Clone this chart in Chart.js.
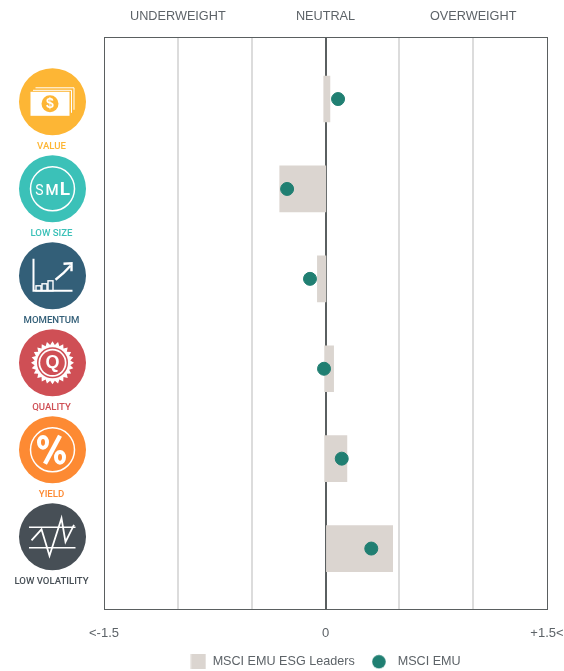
<!DOCTYPE html>
<html>
<head>
<meta charset="utf-8">
<style>
html,body{margin:0;padding:0;background:#fff}
#wrap{position:absolute;left:0;top:0;width:564px;height:671px}
</style>
<script src="https://cdn.jsdelivr.net/npm/chart.js@4/dist/chart.umd.min.js"></script>
</head>
<body>
<div id="wrap"><canvas id="c" width="564" height="671"></canvas></div>
<script>
const categories = ['VALUE','LOW SIZE','MOMENTUM','QUALITY','YIELD','LOW VOLATILITY'];
const categoryColors = ['#fdb635','#3bc1b8','#335f78','#cf4f55','#fd8a33','#474f56'];
const leadersStart = [-0.012,-0.31,-0.055,-0.006,-0.006,0.006];
const leadersEnd = [0.03,0.002,0.003,0.055,0.145,0.455];
const emuValues = [0.085,-0.26,-0.105,-0.01,0.11,0.31];
const topLabels = {'-1':'UNDERWEIGHT','0':'NEUTRAL','1':'OVERWEIGHT'};
const bottomLabels = {'-1.5':'<-1.5','0':'0','1.5':'+1.5<'};
const seriesNames = ['MSCI EMU ESG Leaders','MSCI EMU'];

const TEXT = '#5d6368', BAR = '#dbd5d0', DOT = '#207f72', FRAME = '#5a5f60';
const rows = categories.map((_, i) => i);

function swatch(w, h, draw){
  const c = document.createElement('canvas'); c.width = w; c.height = h;
  draw(c.getContext('2d')); return c;
}
const rectIcon = swatch(16, 15, g => { g.fillStyle = BAR; g.fillRect(0.5, 0, 15, 15); });
const dotIcon = swatch(23, 15, g => { g.fillStyle = DOT; g.beginPath(); g.arc(7, 7.5, 6.8, 0, Math.PI*2); g.fill(); });
const legendIcons = [rectIcon, dotIcon];

function iconValue(g){
  g.fillStyle='#fff';
  g.strokeStyle='#fff'; g.lineWidth=1;
  g.beginPath(); g.moveTo(-17,-14); g.lineTo(21.5,-14); g.lineTo(21.5,8); g.stroke();
  g.beginPath(); g.moveTo(-19.5,-11.5); g.lineTo(19,-11.5); g.lineTo(19,11); g.stroke();
  g.fillRect(-22,-10,39,24);
  g.fillStyle='#fdb635'; g.beginPath(); g.arc(-2.5,2,8.5,0,Math.PI*2); g.fill();
  g.fillStyle='#fff'; g.font='bold 14px "Liberation Sans"'; g.textAlign='center'; g.textBaseline='middle';
  g.fillText('$',-2.5,2.5);
}
function iconSize(g){
  g.strokeStyle='#fff'; g.lineWidth=1.5;
  g.beginPath(); g.arc(0,0,22,0,Math.PI*2); g.stroke();
  g.fillStyle='#fff'; g.textBaseline='alphabetic'; g.textAlign='center';
  g.font='400 14px Roboto'; g.fillText('S',-13,6);
  g.font='500 15px Roboto'; g.fillText('M',-0.5,6);
  g.font='700 19px Roboto'; g.fillText('L',12.5,6);
}
function iconMomentum(g){
  g.strokeStyle='#fff'; g.fillStyle='#fff'; g.lineWidth=2;
  g.beginPath(); g.moveTo(-19,-17); g.lineTo(-19,15); g.lineTo(20,15); g.stroke();
  g.lineWidth=1.4;
  g.strokeRect(-16.5,10,5,5); g.strokeRect(-10.5,8,5,7); g.strokeRect(-4.5,5,5,10);
  g.lineWidth=2.4;
  g.beginPath(); g.moveTo(3,4); g.quadraticCurveTo(11,-2,18,-10); g.stroke();
  g.beginPath(); g.moveTo(11,-12); g.lineTo(19,-12.5); g.lineTo(19,-4.5); g.stroke();
}
function iconQuality(g){
  g.fillStyle='#fff'; g.beginPath();
  const n=24;
  for(let i=0;i<n*2;i++){
    const r=i%2?18:21.5, a=i*Math.PI/n;
    g[i?'lineTo':'moveTo'](r*Math.cos(a),r*Math.sin(a));
  }
  g.closePath(); g.fill();
  g.fillStyle='#cf4f55'; g.beginPath(); g.arc(0,0,15.5,0,Math.PI*2); g.fill();
  g.fillStyle='#fff'; g.beginPath(); g.arc(0,0,14,0,Math.PI*2); g.fill();
  g.fillStyle='#cf4f55'; g.beginPath(); g.arc(0,0,12.3,0,Math.PI*2); g.fill();
  g.fillStyle='#fff'; g.font='bold 18px "Liberation Sans"'; g.textAlign='center'; g.textBaseline='middle';
  g.fillText('Q',0,0.5);
}
function iconYield(g){
  g.strokeStyle='#fff'; g.lineWidth=1.5;
  g.beginPath(); g.arc(0,0,22,0,Math.PI*2); g.stroke();
  g.lineWidth=4;
  g.beginPath(); g.ellipse(-9.5,-7.5,4,5.4,0,0,Math.PI*2); g.stroke();
  g.beginPath(); g.ellipse(7.5,7.5,4,5.4,0,0,Math.PI*2); g.stroke();
  g.lineWidth=4.4;
  g.beginPath(); g.moveTo(7.5,-14); g.lineTo(-7.5,14); g.stroke();
}
function iconVol(g){
  g.strokeStyle='#fff'; g.lineWidth=1.6;
  g.beginPath(); g.moveTo(-23.5,-9.5); g.lineTo(23,-9.5); g.stroke();
  g.beginPath(); g.moveTo(-23.5,11); g.lineTo(23,11); g.stroke();
  g.lineWidth=1.8;
  g.beginPath();
  [[-21,3.5],[-11,-7.5],[-3,19],[9,-18.5],[13,5],[21.5,-12]].forEach((p,i)=>{g[i?'lineTo':'moveTo'](p[0],p[1]);});
  g.stroke();
}
const iconDrawers = [iconValue,iconSize,iconMomentum,iconQuality,iconYield,iconVol];

const factorIcons = {
  id:'factorIcons',
  afterLayout(chart){ chart.legend.top -= 6; chart.legend.bottom -= 6; },
  afterDraw(chart){
    const g = chart.ctx;
    categories.forEach((name,i)=>{
      const cy = 101.8 + i*87, cx = 52.5;
      g.save();
      g.fillStyle = categoryColors[i];
      g.beginPath(); g.arc(cx,cy,33.5,0,Math.PI*2); g.fill();
      g.translate(cx,cy);
      iconDrawers[i](g);
      g.restore();
      g.save();
      g.fillStyle = categoryColors[i];
      g.font = '500 9.6px Roboto';
      g.textAlign='center'; g.textBaseline='middle';
      g.fillText(name, cx-1, cy+44.4);
      g.restore();
    });
  }
};

new Chart(document.getElementById('c'),{
  data:{
    datasets:[
      {type:'bar', label:seriesNames[0], indexAxis:'y', xAxisID:'x', yAxisID:'y',
       data:rows.map(i=>({x:[leadersStart[i],leadersEnd[i]],y:i})),
       backgroundColor:BAR, barThickness:46, order:2},
      {type:'scatter', label:seriesNames[1], xAxisID:'x', yAxisID:'y',
       data:rows.map(i=>({x:emuValues[i],y:i})),
       backgroundColor:DOT, borderColor:DOT, pointRadius:6.5, pointHoverRadius:6.5, order:1, pointStyle:'circle'}
    ]
  },
  options:{
    responsive:false, animation:false,
    layout:{padding:{left:104,right:17,top:0,bottom:-13}},
    scales:{
      x:{type:'linear',position:'bottom',min:-1.5,max:1.5,
         afterFit(s){s.height=31;s.paddingLeft=0;s.paddingRight=0;},
         afterBuildTicks(s){s.ticks=[-1.5,-1,-0.5,0,0.5,1,1.5].map(v=>({value:v}));},
         grid:{drawTicks:false,
           color:c=>{const v=c.tick&&c.tick.value;return (v===0||v===-1.5||v===1.5)?FRAME:'#dcdcdc';},
           lineWidth:c=>{const v=c.tick&&c.tick.value;return v===0?2:(v===-1.5||v===1.5)?1:2;}},
         border:{display:true,color:FRAME,width:1},
         ticks:{padding:16,maxRotation:0,autoSkip:false,color:TEXT,font:{family:'"Liberation Sans"',size:13},
           callback:v=>bottomLabels[String(v)]||''}},
      x2:{type:'linear',axis:'x',position:'top',min:-1.5,max:1.5,
         afterFit(s){s.height=37;s.paddingLeft=0;s.paddingRight=0;},
         afterBuildTicks(s){s.ticks=[-1,0,1].map(v=>({value:v}));},
         grid:{display:false,drawTicks:false},
         border:{display:true,color:FRAME,width:1},
         ticks:{padding:13,maxRotation:0,autoSkip:false,color:TEXT,font:{family:'"Liberation Sans"',size:12.7},
           callback:v=>topLabels[String(v)]||''}},
      y:{type:'linear',display:false,reverse:true,offset:false,min:-0.69,max:5.68}
    },
    plugins:{
      title:{display:false},
      tooltip:{enabled:false},
      legend:{display:true,position:'bottom',align:'center',fullSize:false,
        labels:{usePointStyle:true,pointStyleWidth:16,padding:20.7,color:TEXT,
          sort:(a,b)=>a.datasetIndex-b.datasetIndex,
          generateLabels(chart){
            return Chart.defaults.plugins.legend.labels.generateLabels(chart)
              .map(item=>({...item,pointStyle:legendIcons[item.datasetIndex]}));
          },
          font:{family:'"Liberation Sans"',size:12.6}}}
    }
  },
  plugins:[factorIcons]
});
</script>
</body>
</html>
